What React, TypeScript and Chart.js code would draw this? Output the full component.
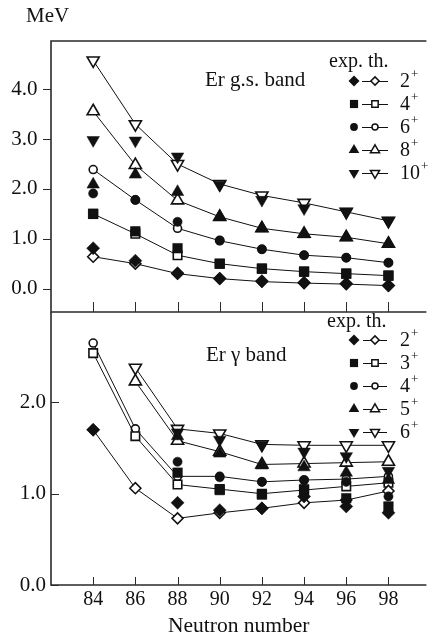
import React, { useEffect, useRef } from 'react';
import { Chart, registerables } from 'chart.js';

Chart.register(...registerables);

const FONT = '"Liberation Serif", "Times New Roman", serif';
const INK = '#111111';
const FRAME = '#2a2a2a';

// ---------- data ----------
const NEUTRONS = [84, 86, 88, 90, 92, 94, 96, 98];
const X_TICKS = [84, 86, 88, 90, 92, 94, 96, 98];
const GS_Y_TICKS = [0, 1, 2, 3, 4];
const GAMMA_Y_TICKS = [0, 1, 2];

// Er ground-state band (MeV)
const GS_SPINS = ['2', '4', '6', '8', '10'];
const GS_EXP_2 = [0.81, 0.56, 0.31, 0.2, 0.15, 0.12, 0.1, 0.06];
const GS_TH_2 = [0.64, 0.5, 0.3, 0.2, 0.14, 0.11, 0.09, 0.06];
const GS_EXP_4 = [1.5, 1.15, 0.81, 0.5, 0.4, 0.34, 0.3, 0.26];
const GS_TH_4 = [1.5, 1.1, 0.67, 0.5, 0.4, 0.34, 0.3, 0.26];
const GS_EXP_6 = [1.91, 1.78, 1.34, 0.97, 0.79, 0.67, 0.62, 0.52];
const GS_TH_6 = [2.39, 1.78, 1.21, 0.96, 0.79, 0.67, 0.62, 0.52];
const GS_EXP_8 = [2.09, 2.29, 1.94, 1.44, 1.21, 1.09, 1.03, 0.9];
const GS_TH_8 = [3.56, 2.48, 1.77, 1.44, 1.21, 1.1, 1.03, 0.9];
const GS_EXP_10 = [2.98, 2.97, 2.65, 2.08, 1.78, 1.61, 1.54, 1.36];
const GS_TH_10 = [4.58, 3.3, 2.5, 2.1, 1.87, 1.72, 1.54, 1.36];

// Er gamma band (MeV)
const GAMMA_SPINS = ['2', '3', '4', '5', '6'];
const GAMMA_EXP_2 = [1.7, null, 0.9, 0.82, 0.84, 0.97, 0.86, 0.79];
const GAMMA_TH_2 = [1.7, 1.06, 0.73, 0.79, 0.84, 0.9, 0.93, 1.03];
const GAMMA_EXP_3 = [null, null, 1.23, 1.04, 0.99, 1.05, 0.95, 0.86];
const GAMMA_TH_3 = [2.54, 1.63, 1.1, 1.05, 1.0, 1.04, 1.08, 1.12];
const GAMMA_EXP_4 = [null, null, 1.35, 1.18, 1.13, 1.15, 1.13, 0.97];
const GAMMA_TH_4 = [2.65, 1.71, 1.19, 1.19, 1.13, 1.15, 1.16, 1.19];
const GAMMA_EXP_5 = [null, null, 1.63, 1.44, 1.31, 1.29, 1.23, 1.15];
const GAMMA_TH_5 = [null, 2.23, 1.58, 1.46, 1.32, 1.33, 1.34, 1.35];
const GAMMA_EXP_6 = [null, null, 1.67, 1.59, 1.53, 1.46, 1.41, 1.25];
const GAMMA_TH_6 = [null, 2.38, 1.71, 1.66, 1.54, 1.53, 1.53, 1.53];

const GS_EXP = [GS_EXP_2, GS_EXP_4, GS_EXP_6, GS_EXP_8, GS_EXP_10];
const GS_TH = [GS_TH_2, GS_TH_4, GS_TH_6, GS_TH_8, GS_TH_10];
const GAMMA_EXP = [GAMMA_EXP_2, GAMMA_EXP_3, GAMMA_EXP_4, GAMMA_EXP_5, GAMMA_EXP_6];
const GAMMA_TH = [GAMMA_TH_2, GAMMA_TH_3, GAMMA_TH_4, GAMMA_TH_5, GAMMA_TH_6];

// ---------- styles ----------
const MARKERS = [
  { style: 'rectRot', rot: 0, rFill: 6.5, rOpen: 5.5 },
  { style: 'rect', rot: 0, rFill: 6.8, rOpen: 6 },
  { style: 'circle', rot: 0, rFill: 4.6, rOpen: 4 },
  { style: 'triangle', rot: 0, rFill: 7.2, rOpen: 7 },
  { style: 'triangle', rot: 180, rFill: 7.2, rOpen: 7 },
];

function toPoints(values: (number | null)[]) {
  const pts: { x: number; y: number }[] = [];
  values.forEach((v, i) => {
    if (v !== null) pts.push({ x: NEUTRONS[i], y: v });
  });
  return pts;
}

function buildDatasets(expSets: (number | null)[][], thSets: (number | null)[][]) {
  const ds: any[] = [];
  thSets.forEach((vals, i) => {
    const m = MARKERS[i];
    ds.push({
      data: toPoints(vals),
      showLine: true,
      borderColor: INK,
      borderWidth: 1,
      pointStyle: m.style,
      pointRotation: m.rot,
      pointRadius: m.rOpen,
      pointBackgroundColor: '#ffffff',
      pointBorderColor: INK,
      pointBorderWidth: 1.6,
      order: 2,
      clip: false,
    });
  });
  expSets.forEach((vals, i) => {
    const m = MARKERS[i];
    ds.push({
      data: toPoints(vals),
      showLine: false,
      pointStyle: m.style,
      pointRotation: m.rot,
      pointRadius: m.rFill,
      pointBackgroundColor: INK,
      pointBorderColor: INK,
      pointBorderWidth: 0.5,
      order: 1,
      clip: false,
    });
  });
  return ds;
}

function drawMarker(ctx: CanvasRenderingContext2D, idx: number, x: number, y: number, filled: boolean, scale: number) {
  const m = MARKERS[idx];
  const r = (filled ? m.rFill : m.rOpen) * scale;
  ctx.beginPath();
  if (m.style === 'rectRot') {
    ctx.moveTo(x, y - r);
    ctx.lineTo(x + r, y);
    ctx.lineTo(x, y + r);
    ctx.lineTo(x - r, y);
    ctx.closePath();
  } else if (m.style === 'rect') {
    const s = r * Math.SQRT1_2;
    ctx.rect(x - s, y - s, 2 * s, 2 * s);
  } else if (m.style === 'circle') {
    ctx.arc(x, y, r, 0, Math.PI * 2);
  } else {
    let a = (m.rot * Math.PI) / 180;
    ctx.moveTo(x + Math.sin(a) * r, y - Math.cos(a) * r);
    a += (2 * Math.PI) / 3;
    ctx.lineTo(x + Math.sin(a) * r, y - Math.cos(a) * r);
    a += (2 * Math.PI) / 3;
    ctx.lineTo(x + Math.sin(a) * r, y - Math.cos(a) * r);
    ctx.closePath();
  }
  if (filled) {
    ctx.fillStyle = INK;
    ctx.fill();
  } else {
    ctx.fillStyle = '#ffffff';
    ctx.fill();
    ctx.strokeStyle = INK;
    ctx.lineWidth = 1.5;
    ctx.stroke();
  }
}

function drawLegend(
  ctx: CanvasRenderingContext2D,
  spins: string[],
  headerX: number,
  headerY: number,
  rowY0: number,
  step: number,
  fx: number,
  lx0: number,
  lx1: number,
  ox: number,
  tx: number
) {
  ctx.save();
  ctx.fillStyle = INK;
  ctx.font = `20px ${FONT}`;
  ctx.textBaseline = 'middle';
  ctx.textAlign = 'left';
  ctx.fillText('exp. th.', headerX, headerY);
  spins.forEach((s, i) => {
    const y = rowY0 + i * step;
    drawMarker(ctx, i, fx, y, true, 0.85);
    ctx.beginPath();
    ctx.strokeStyle = INK;
    ctx.lineWidth = 1;
    ctx.moveTo(lx0, y + 0.5);
    ctx.lineTo(lx1, y + 0.5);
    ctx.stroke();
    drawMarker(ctx, i, ox, y, false, 0.75);
    ctx.fillStyle = INK;
    ctx.font = `20px ${FONT}`;
    ctx.textBaseline = 'middle';
    ctx.fillText(s, tx, y + 1);
    const w = ctx.measureText(s).width;
    ctx.font = `13px ${FONT}`;
    ctx.fillText('+', tx + w + 1, y - 6);
  });
  ctx.restore();
}

function tickLines(
  ctx: CanvasRenderingContext2D,
  chart: any,
  xTickLen: number,
  yTicks: number[],
  yTickFrom: number,
  yTickTo: number
) {
  const a = chart.chartArea;
  const xs = chart.scales.x;
  const ys = chart.scales.y;
  ctx.beginPath();
  ctx.strokeStyle = FRAME;
  ctx.lineWidth = 1;
  X_TICKS.forEach((v) => {
    const px = Math.round(xs.getPixelForValue(v)) + 0.5;
    ctx.moveTo(px, a.bottom);
    ctx.lineTo(px, a.bottom - xTickLen);
  });
  yTicks.forEach((v) => {
    const py = Math.round(ys.getPixelForValue(v)) + 0.5;
    ctx.moveTo(a.left + yTickFrom, py);
    ctx.lineTo(a.left + yTickTo, py);
  });
  ctx.stroke();
}

const topDecor = {
  id: 'topDecor',
  afterDraw(chart: any) {
    const { ctx, chartArea: a } = chart;
    ctx.save();
    ctx.strokeStyle = FRAME;
    ctx.lineWidth = 1.6;
    ctx.beginPath();
    ctx.moveTo(a.right, a.top);
    ctx.lineTo(a.left, a.top);
    ctx.lineTo(a.left, a.bottom);
    ctx.lineTo(a.right, a.bottom);
    ctx.stroke();
    tickLines(ctx, chart, 10, GS_Y_TICKS, -8, 0);
    ctx.fillStyle = INK;
    ctx.font = `21px ${FONT}`;
    ctx.textBaseline = 'middle';
    ctx.textAlign = 'left';
    ctx.fillText('MeV', 26, 16);
    ctx.fillText('Er g.s. band', 205, 80);
    ctx.restore();
    drawLegend(ctx, GS_SPINS, 329, 62, 81, 23, 354, 362, 388, 375, 400);
  },
};

const bottomDecor = {
  id: 'bottomDecor',
  afterDraw(chart: any) {
    const { ctx, chartArea: a } = chart;
    ctx.save();
    ctx.strokeStyle = FRAME;
    ctx.lineWidth = 1.6;
    ctx.beginPath();
    ctx.moveTo(a.left, a.top);
    ctx.lineTo(a.left, a.bottom);
    ctx.lineTo(a.right, a.bottom);
    ctx.stroke();
    tickLines(ctx, chart, 8, GAMMA_Y_TICKS, 0, 8);
    ctx.fillStyle = INK;
    ctx.font = `21px ${FONT}`;
    ctx.textBaseline = 'middle';
    ctx.textAlign = 'left';
    ctx.fillText('Er \u03b3 band', 206, 355);
    ctx.restore();
    drawLegend(ctx, GAMMA_SPINS, 327, 322, 340, 23, 354, 363, 387, 375, 400);
  },
};

function makeX(display: boolean) {
  return {
    type: 'linear',
    min: 82,
    max: 99.8,
    display,
    afterBuildTicks: (s: any) => {
      s.ticks = X_TICKS.map((v) => ({ value: v }));
    },
    grid: { display: false, drawTicks: false },
    border: { display: false },
    ticks: {
      font: { family: FONT, size: 20 },
      color: INK,
      padding: 3,
      maxRotation: 0,
      autoSkip: false,
      callback: (v: any) => String(v),
    },
    title: {
      display: true,
      text: 'Neutron number',
      font: { family: FONT, size: 21.5 },
      color: INK,
      padding: { top: 0, bottom: 1 },
    },
    afterFit: (s: any) => {
      s.height = display ? 55 : 0;
    },
  };
}

function makeY(min: number, max: number, ticks: number[], pad: number) {
  return {
    type: 'linear',
    min,
    max,
    afterBuildTicks: (s: any) => {
      s.ticks = ticks.map((v) => ({ value: v }));
    },
    grid: { display: false, drawTicks: false },
    border: { display: false },
    ticks: {
      font: { family: FONT, size: 21 },
      color: INK,
      padding: pad,
      callback: (v: any) => Number(v).toFixed(1),
    },
    afterFit: (s: any) => {
      s.width = 51;
    },
  };
}

export default function App() {
  const topRef = useRef<HTMLCanvasElement>(null);
  const botRef = useRef<HTMLCanvasElement>(null);

  useEffect(() => {
    document.body.style.margin = '0';
    const common = {
      responsive: false,
      animation: false,
      plugins: { legend: { display: false }, tooltip: { enabled: false } },
    };
    const bottom = new Chart(botRef.current as HTMLCanvasElement, {
      type: 'line',
      data: { datasets: buildDatasets(GAMMA_EXP, GAMMA_TH) },
      options: {
        ...common,
        layout: { padding: { top: 312, left: 0, right: 0, bottom: 0 } },
        scales: { x: makeX(true), y: makeY(0, 2.99, GAMMA_Y_TICKS, 5) },
      } as any,
      plugins: [bottomDecor],
    });
    const top = new Chart(topRef.current as HTMLCanvasElement, {
      type: 'line',
      data: { datasets: buildDatasets(GS_EXP, GS_TH) },
      options: {
        ...common,
        layout: { padding: { top: 41, left: 0, right: 0, bottom: 640 - 312 } },
        scales: { x: makeX(false), y: makeY(-0.47, 4.97, GS_Y_TICKS, 13.5) },
      } as any,
      plugins: [topDecor],
    });
    return () => {
      top.destroy();
      bottom.destroy();
    };
  }, []);

  return (
    <div style={{ position: 'relative', width: 435, height: 640, overflow: 'hidden', background: '#fff' }}>
      <canvas ref={botRef} width={435} height={640} style={{ position: 'absolute', left: 0, top: 0 }} />
      <canvas ref={topRef} width={435} height={640} style={{ position: 'absolute', left: 0, top: 0 }} />
    </div>
  );
}
